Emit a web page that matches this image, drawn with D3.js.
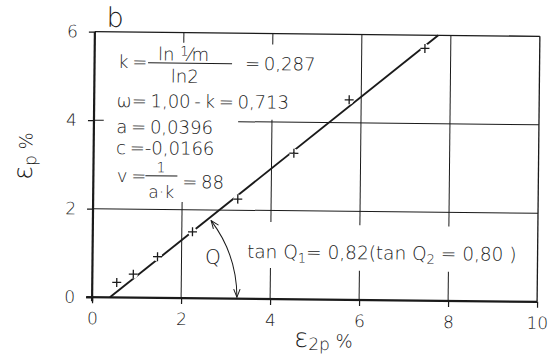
<!DOCTYPE html>
<html>
<head>
<meta charset="utf-8">
<script src="https://cdn.jsdelivr.net/npm/d3@7"></script>
<style>
  html, body { margin: 0; padding: 0; background: #fff; }
  svg text { font-family: 'DejaVu Sans', sans-serif; font-weight: 200; fill: #1a1a1a; }
</style>
</head>
<body>
<script>
// Plastic strain ε_p against ε_2p, with the fitted straight line and its parameters.
const xTicks = [0, 2, 4, 6, 8, 10];
const yTicks = [0, 2, 4, 6];
const eps2p = [0.55, 0.92, 1.46, 2.24, 3.25, 4.50, 5.73, 7.42];
const epsP  = [0.34, 0.53, 0.93, 1.50, 2.25, 3.30, 4.52, 5.70];
const tanQ1 = 0.82;        // slope of the fitted line
const tanQ2 = 0.80;
const lineStartX = 0.4;    // where the fitted line meets ε_p = 0

const W = 558, H = 354;
const svg = d3.select("body").append("svg").attr("width", W).attr("height", H);
svg.append("rect").attr("width", W).attr("height", H).attr("fill", "#fff");

// whole drawing sits slightly tilted on the sheet
const g = svg.append("g").attr("transform", "rotate(0.6,315,166)");

const x = d3.scaleLinear().domain([0, 10]).range([93.5, 538.5]);
const y = d3.scaleLinear().domain([0, 6]).range([299.5, 34]);

const ink = "#1a1a1a";
const comma = v => d3.format(".2f")(v).replace(".", ",");

// grid pieces, interrupted where the lettering sits
const vGrid = [
  { v: 2,  spans: [[0, 2.17], [5.77, 6]] },
  { v: 4,  spans: [[0, 0.70], [1.74, 4.05], [5.75, 6]] },
  { v: 6,  spans: [[0, 0.66], [1.69, 6]] },
  { v: 8,  spans: [[0, 0.66], [1.68, 6]] },
  { v: 10, spans: [[0, 6]] }
];
const hGrid = [
  { v: 2, spans: [[0, 10]] },
  { v: 4, spans: [[0, 0.22], [3.24, 10]] },
  { v: 6, spans: [[0, 10]] }
];
const gridG = g.append("g").attr("stroke", ink).attr("fill", "none");
vGrid.forEach(d => d.spans.forEach(s => {
  gridG.append("line")
    .attr("x1", x(d.v)).attr("x2", x(d.v))
    .attr("y1", y(s[0])).attr("y2", y(s[1]))
    .attr("stroke-width", d.v === 10 ? 1.3 : 1);
}));
hGrid.forEach(d => d.spans.forEach(s => {
  gridG.append("line")
    .attr("x1", x(s[0])).attr("x2", x(s[1]))
    .attr("y1", y(d.v)).attr("y2", y(d.v))
    .attr("stroke-width", d.v === 6 ? 1.3 : 1);
}));

// axes
const xAxis = g.append("g").attr("transform", `translate(0,${y(0)})`)
  .call(d3.axisBottom(x).tickValues(xTicks).tickFormat(d3.format("d"))
    .tickSizeInner(6).tickSizeOuter(0).tickPadding(9));
const yAxis = g.append("g").attr("transform", `translate(${x(0)},0)`)
  .call(d3.axisLeft(y).tickValues(yTicks).tickFormat(d3.format("d"))
    .tickSizeInner(6).tickSizeOuter(0).tickPadding(11));
[xAxis, yAxis].forEach(a => {
  a.select(".domain").attr("stroke", ink).attr("stroke-width", 2.2);
  a.selectAll(".tick line").attr("stroke", ink).attr("stroke-width", 1.2);
  a.selectAll(".tick text").attr("fill", ink).style("font-size", "17px")
    .style("font-family", "'DejaVu Sans', sans-serif");
});
xAxis.select(".domain").attr("d", `M${x(0) - 6},0H${x(10)}`);
yAxis.select(".domain").attr("d", `M0,${y(0) + 4}V${y(6)}`);

// fitted line: ε_p = tanQ1 · (ε_2p − lineStartX)
const fitX = [lineStartX, lineStartX + 6 / tanQ1];
g.append("path")
  .datum(fitX)
  .attr("d", d3.line().x(d => x(d)).y(d => y(tanQ1 * (d - lineStartX))))
  .attr("stroke", ink).attr("stroke-width", 1.9).attr("fill", "none");

// measured points, each cut clear of the line
const pts = eps2p.map((v, i) => [v, epsP[i]]);
g.append("g").selectAll("circle").data(pts).join("circle")
  .attr("cx", d => x(d[0])).attr("cy", d => y(d[1])).attr("r", 4.6).attr("fill", "#fff");
g.append("g").selectAll("path").data(pts).join("path")
  .attr("transform", d => `translate(${x(d[0])},${y(d[1])})`)
  .attr("d", "M-4.5,0H4.5M0,-4.5V4.5")
  .attr("stroke", ink).attr("stroke-width", 1.3);

// angle Q between the line and the ε_2p axis
const defs = svg.append("defs");
defs.append("marker").attr("id", "tip")
  .attr("viewBox", "-1 -5 10 10").attr("refX", 8).attr("refY", 0)
  .attr("markerWidth", 10).attr("markerHeight", 10)
  .attr("markerUnits", "userSpaceOnUse").attr("orient", "auto-start-reverse")
  .append("path").attr("d", "M0,-3.2L8,0L0,3.2")
  .attr("fill", "none").attr("stroke", ink).attr("stroke-width", 1);
const cx = x(lineStartX), cy = y(0), R = 127;
const a0 = Math.atan2(y(tanQ1) - y(0), x(lineStartX + 1) - x(lineStartX));
const arc = d3.path();
arc.arc(cx, cy, R, a0 + 0.025, -0.012, false);
g.append("path").attr("d", arc.toString())
  .attr("fill", "none").attr("stroke", ink).attr("stroke-width", 1)
  .attr("marker-start", "url(#tip)").attr("marker-end", "url(#tip)");
g.append("text").attr("x", 214).attr("y", 265).attr("text-anchor", "middle")
  .style("font-size", "20px").text("Q");

// panel letter
g.append("text").attr("x", 105).attr("y", 29).style("font-size", "27px").text("b");

// parameters of the fit
const fs = "18px";
const ws = "-2px";
g.append("text").attr("x", 117).attr("y", 70).style("font-size", fs).style("word-spacing", ws).text("k =");
const num = g.append("text").attr("x", 157).attr("y", 62).style("font-size", fs);
num.append("tspan").text("ln ");
num.append("tspan").attr("dy", -5).style("font-size", "13px").text("1");
num.append("tspan").attr("dy", 5).text("\u2044m");
g.append("line").attr("x1", 147).attr("x2", 231).attr("y1", 64.5).attr("y2", 64.5)
  .attr("stroke", ink).attr("stroke-width", 1);
g.append("text").attr("x", 170).attr("y", 84).style("font-size", fs).text("ln2");
g.append("text").attr("x", 244).attr("y", 70.5).style("font-size", fs).style("word-spacing", ws).text("= 0,287");

g.append("text").attr("x", 116).attr("y", 109).style("font-size", fs).style("word-spacing", ws)
  .text("\u03C9= 1,00 - k = 0,713");
g.append("text").attr("x", 116).attr("y", 135).style("font-size", fs).style("word-spacing", ws)
  .text("a = 0,0396");
g.append("text").attr("x", 116).attr("y", 156).style("font-size", fs).style("word-spacing", ws)
  .text("c =-0,0166");

g.append("text").attr("x", 117).attr("y", 184).style("font-size", fs).style("word-spacing", ws).text("v =");
g.append("text").attr("x", 161).attr("y", 174).attr("text-anchor", "middle").style("font-size", "14px").text("1");
g.append("line").attr("x1", 145.5).attr("x2", 177.5).attr("y1", 177.5).attr("y2", 177.5)
  .attr("stroke", ink).attr("stroke-width", 1);
g.append("text").attr("x", 161.5).attr("y", 199.5).attr("text-anchor", "middle").style("font-size", "17px").text("a\u00B7k");
g.append("text").attr("x", 182.5).attr("y", 189.5).style("font-size", fs).style("word-spacing", ws).text("= 88");

// slope statement
const tq = g.append("text").attr("x", 248).attr("y", 258.7).style("font-size", "18.5px");
tq.append("tspan").text("tan Q");
tq.append("tspan").attr("dy", 4).style("font-size", "13px").text("1");
tq.append("tspan").attr("dy", -4).text(`= ${comma(tanQ1)}(tan Q`);
tq.append("tspan").attr("dy", 4).style("font-size", "13px").text("2");
tq.append("tspan").attr("dy", -4).text(` = ${comma(tanQ2)} )`);

// axis titles
const yt = g.append("text").attr("transform", "translate(32,183) rotate(-90)");
yt.append("tspan").style("font-size", "26px").text("\u03B5");
yt.append("tspan").attr("dy", 4).style("font-size", "17px").text("p");
yt.append("tspan").attr("dy", -4).style("font-size", "18px").text(" %");

const xt = g.append("text").attr("x", 296).attr("y", 347);
xt.append("tspan").style("font-size", "26px").text("\u03B5");
xt.append("tspan").attr("dy", 3).style("font-size", "17px").text("2p");
xt.append("tspan").attr("dy", -3).style("font-size", "18px").text(" %");
</script>
</body>
</html>
